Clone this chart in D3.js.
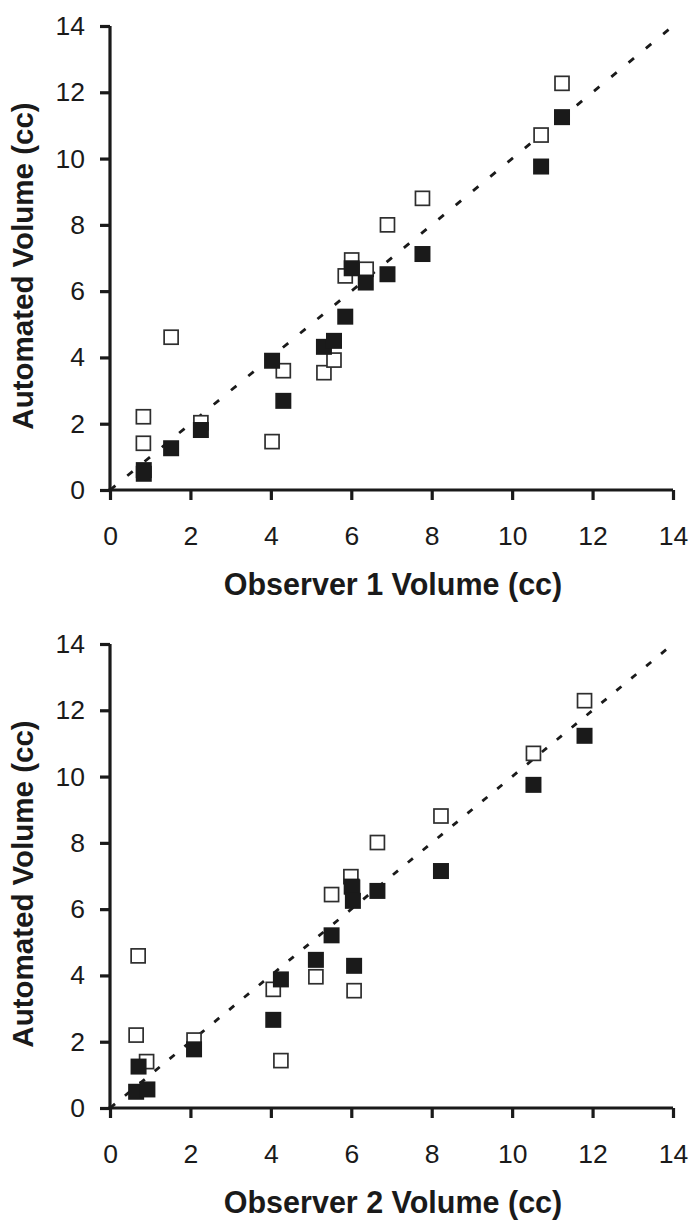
<!DOCTYPE html>
<html>
<head>
<meta charset="utf-8">
<script src="https://cdn.jsdelivr.net/npm/d3@7"></script>
<style>
  html, body { margin: 0; padding: 0; background: #fff; }
  svg { display: block; }
  text { font-family: "Liberation Sans", Arial, Helvetica, sans-serif; fill: #1a1a1a; }
</style>
</head>
<body>
<svg id="chart" width="698" height="1223"></svg>
<script>
// ---- data ----
const tickValues = [0, 2, 4, 6, 8, 10, 12, 14];
const yTitle = "Automated Volume (cc)";
const xTitles = ["Observer 1 Volume (cc)", "Observer 2 Volume (cc)"];

// Panel 1: Observer 1
const obs1OpenX   = [0.83, 0.83, 1.52, 2.26, 4.03, 4.31, 5.32, 5.57, 5.85, 6.01, 6.37, 6.90, 7.77, 10.72, 11.24];
const obs1OpenY   = [2.21, 1.41, 4.61, 2.03, 1.46, 3.60, 3.54, 3.92, 6.46, 6.94, 6.66, 8.00, 8.80, 10.71, 12.27];
const obs1FilledX = [0.84, 0.84, 1.52, 2.26, 4.03, 4.31, 5.32, 5.57, 5.85, 6.01, 6.36, 6.90, 7.77, 10.72, 11.24];
const obs1FilledY = [0.49, 0.60, 1.26, 1.81, 3.90, 2.69, 4.32, 4.50, 5.23, 6.69, 6.26, 6.51, 7.12, 9.76, 11.25];

// Panel 2: Observer 2
const obs2OpenX   = [0.70, 0.65, 0.91, 2.09, 4.06, 4.25, 5.12, 5.51, 5.99, 6.03, 6.07, 6.65, 8.23, 10.53, 11.80];
const obs2OpenY   = [4.59, 2.20, 1.40, 2.05, 3.58, 1.43, 3.96, 6.44, 6.98, 6.66, 3.54, 8.01, 8.81, 10.70, 12.29];
const obs2FilledX = [0.71, 0.65, 0.93, 2.09, 4.06, 4.25, 5.12, 5.51, 6.01, 6.04, 6.07, 6.65, 8.23, 10.53, 11.80];
const obs2FilledY = [1.25, 0.49, 0.56, 1.77, 2.66, 3.88, 4.47, 5.21, 6.68, 6.25, 4.29, 6.55, 7.15, 9.75, 11.23];

// identity reference line
const lineX = [0, 14];
const lineY = [0, 14];

// ---- drawing ----
const svg = d3.select("#chart");
const ink = "#1a1a1a";

function zip(xs, ys) { return xs.map((x, i) => ({ x: x, y: ys[i] })); }

function drawPanel(top, bottom, openPts, filledPts, xTitle, dash) {
  const x = d3.scaleLinear().domain([0, 14]).range([110, 673]);
  const y = d3.scaleLinear().domain([0, 14]).range([bottom, top]);
  const g = svg.append("g");

  // dashed identity line
  g.append("path")
    .datum(zip(lineX, lineY))
    .attr("d", d3.line().x(d => x(d.x)).y(d => y(d.y)))
    .attr("fill", "none")
    .attr("stroke", ink)
    .attr("stroke-width", 2.8)
    .attr("stroke-dasharray", dash);

  // open squares (drawn first)
  const so = 14;
  g.selectAll("rect.open").data(openPts).join("rect")
    .attr("class", "open")
    .attr("x", d => x(d.x) - so / 2)
    .attr("y", d => y(d.y) - so / 2)
    .attr("width", so).attr("height", so)
    .attr("fill", "#fff")
    .attr("stroke", "#2e2e2e")
    .attr("stroke-width", 1.7);

  // filled squares
  const sf = 16;
  g.selectAll("rect.filled").data(filledPts).join("rect")
    .attr("class", "filled")
    .attr("x", d => x(d.x) - sf / 2)
    .attr("y", d => y(d.y) - sf / 2)
    .attr("width", sf).attr("height", sf)
    .attr("fill", ink);

  // axes
  const xAxis = g.append("g").attr("transform", `translate(0,${bottom})`)
    .call(d3.axisBottom(x).tickValues(tickValues).tickSize(10).tickSizeOuter(0).tickPadding(26));
  const yAxis = g.append("g").attr("transform", `translate(110,0)`)
    .call(d3.axisLeft(y).tickValues(tickValues).tickSize(10).tickSizeOuter(0).tickPadding(15));

  [xAxis, yAxis].forEach(a => {
    a.select(".domain").attr("stroke", ink).attr("stroke-width", 3.2);
    a.selectAll(".tick line").attr("stroke", ink).attr("stroke-width", 3.2);
    a.selectAll(".tick text").attr("font-size", 26.5)
      .attr("font-family", "Liberation Sans, Arial, sans-serif").attr("fill", ink);
  });
  // extend x domain line to meet y axis cleanly
  xAxis.select(".domain").attr("d", `M${110 - 1.6},0H${673}`);
  yAxis.select(".domain").attr("d", `M0,${bottom + 1.6}V${top}`);

  // x title
  g.append("text")
    .attr("x", 393).attr("y", bottom + 105)
    .attr("text-anchor", "middle")
    .attr("font-size", 30.5).attr("font-weight", "bold")
    .text(xTitle);

  // y title
  const cy = (top + bottom) / 2 + 8;
  g.append("text")
    .attr("transform", `translate(33,${cy}) rotate(-90)`)
    .attr("text-anchor", "middle")
    .attr("font-size", 29.5).attr("font-weight", "bold")
    .text(yTitle);
}

drawPanel(26, 490, zip(obs1OpenX, obs1OpenY), zip(obs1FilledX, obs1FilledY), xTitles[0], "7,15.4");
drawPanel(644, 1108, zip(obs2OpenX, obs2OpenY), zip(obs2FilledX, obs2FilledY), xTitles[1], "6.5,12.8");
</script>
</body>
</html>
